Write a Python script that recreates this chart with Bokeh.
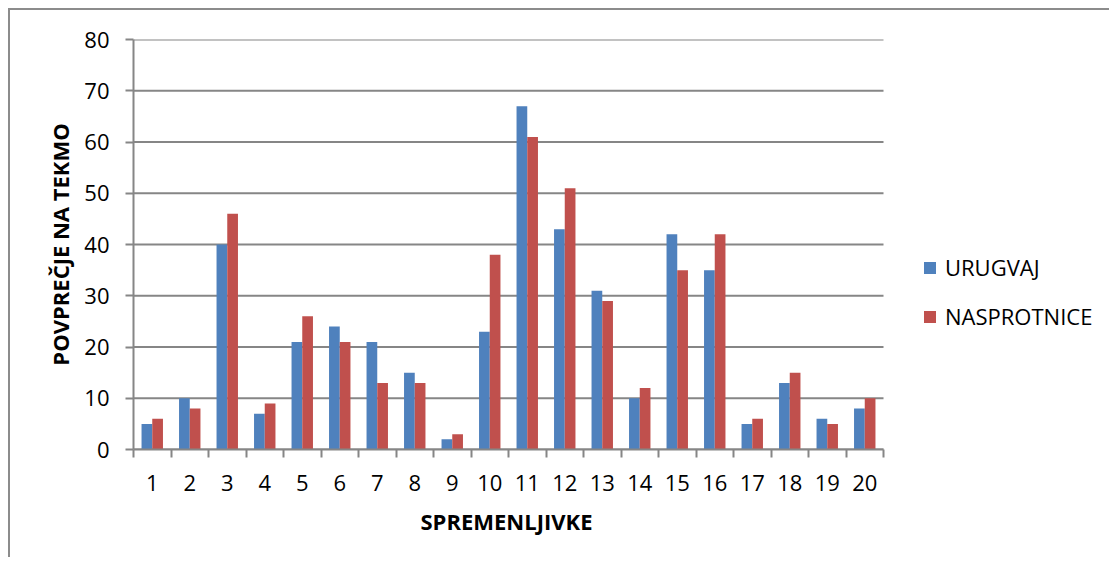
from bokeh.plotting import figure
from bokeh.models import ColumnDataSource, Range1d, FixedTicker, Legend, LegendItem, Title
from bokeh.transform import dodge
from bokeh.embed import file_html
from bokeh.resources import INLINE

categories = list(range(1, 21))
urugvaj = [5, 10, 40, 7, 21, 24, 21, 15, 2, 23, 67, 43, 31, 10, 42, 35, 5, 13, 6, 8]
nasprotnice = [6, 8, 46, 9, 26, 21, 13, 13, 3, 38, 61, 51, 29, 12, 35, 42, 6, 15, 5, 10]
y_ticks = [0, 10, 20, 30, 40, 50, 60, 70, 80]

src = ColumnDataSource(dict(x=categories, u=urugvaj, n=nasprotnice))

GREY = "#868686"
FONT = "Open Sans"

W, H = 1101, 549
LEFT = 123
px_per_cat = 37.5
x_lo = categories[0] - 0.5
x_hi_cat = categories[-1] + 0.5
x_end = x_lo + (W - LEFT) / px_per_cat  # frame extends to the right edge (room for legend)

p = figure(width=W, height=H, output_backend="svg", toolbar_location=None,
           x_range=Range1d(x_lo, x_end), y_range=Range1d(0, 80),
           min_border_left=LEFT, min_border_right=0, min_border_top=29, min_border_bottom=110)
p.outline_line_color = None
p.styles = {"border-top": "2px solid #8c8c8c", "border-left": "2px solid #8c8c8c",
            "margin-top": "8px", "margin-left": "8px"}

# horizontal gridlines limited to the category span
p.segment(x0=[x_lo] * len(y_ticks), x1=[x_hi_cat] * len(y_ticks), y0=y_ticks, y1=y_ticks,
          line_color=GREY, line_width=2)

bw = 1 / 3.5
r1 = p.vbar(x=dodge("x", -bw / 2, range=p.x_range), top="u", width=bw, source=src,
            fill_color="#4F81BD", line_color=None)
r2 = p.vbar(x=dodge("x", bw / 2, range=p.x_range), top="n", width=bw, source=src,
            fill_color="#C0504D", line_color=None)

# x axis
xa = p.xaxis[0]
xa.bounds = (x_lo, x_hi_cat)
xa.ticker = FixedTicker(ticks=categories, minor_ticks=[c - 0.5 for c in categories] + [x_hi_cat])
xa.major_tick_line_color = None
xa.major_tick_out = 0
xa.major_tick_in = 0
xa.minor_tick_line_color = GREY
xa.minor_tick_line_width = 2
xa.minor_tick_out = 8
xa.minor_tick_in = 0
xa.axis_line_color = GREY
xa.axis_line_width = 2
xa.major_label_text_font = FONT
xa.major_label_text_font_size = "22px"
xa.major_label_text_color = "#000000"
xa.major_label_standoff = 17

# x axis title placed under the category span
xt = Title(text="SPREMENLJIVKE", align="left", offset=287, vertical_align="top", standoff=24,
           text_font=FONT, text_font_style="bold", text_font_size="22px", text_color="#000000")
p.add_layout(xt, "below")

# y axis
ya = p.yaxis[0]
ya.ticker = FixedTicker(ticks=y_ticks)
ya.major_tick_line_color = GREY
ya.major_tick_line_width = 2
ya.major_tick_out = 8
ya.major_tick_in = 0
ya.minor_tick_line_color = None
ya.axis_line_color = GREY
ya.axis_line_width = 2
ya.major_label_text_font = FONT
ya.major_label_text_font_size = "22px"
ya.major_label_text_color = "#000000"
ya.major_label_standoff = 16
ya.axis_label = "POVPREČJE NA TEKMO"
ya.axis_label_text_font = FONT
ya.axis_label_text_font_style = "bold"
ya.axis_label_text_font_size = "22px"
ya.axis_label_text_color = "#000000"
ya.axis_label_standoff = 6

p.xgrid.grid_line_color = None
p.ygrid.grid_line_color = None

legend = Legend(items=[LegendItem(label="URUGVAJ", renderers=[r1]),
                       LegendItem(label="NASPROTNICE", renderers=[r2])],
                location=(789, 118), orientation="vertical")
legend.border_line_color = None
legend.background_fill_alpha = 0
legend.padding = 0
legend.margin = 0
legend.glyph_width = 15
legend.glyph_height = 15
legend.label_height = 21
legend.spacing = 19
legend.label_standoff = 8
legend.label_text_font = FONT
legend.label_text_font_size = "22px"
legend.label_text_color = "#000000"
p.add_layout(legend)

open("out.html", "w").write(file_html(p, INLINE))
